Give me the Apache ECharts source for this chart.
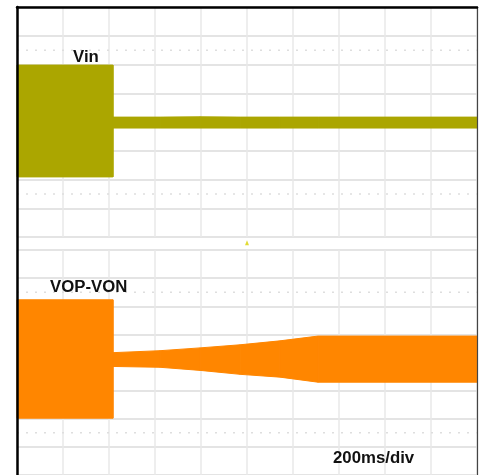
<!DOCTYPE html>
<html>
<head>
<meta charset="utf-8">
<script src="https://cdn.jsdelivr.net/npm/echarts@6/dist/echarts.min.js"></script>
<style>
html,body{margin:0;padding:0;background:#fff;}
#c{width:479px;height:475px;}
</style>
</head>
<body>
<div id="c"></div>
<script>
// time in ms (200 ms/div, 10 div), amplitude in divisions from panel centre
const timeMs   = [0,     417,   417,   622,   796,   970,   1143,  1309,  2000];
const vinUpper = [1.98,  1.98,  0.17,  0.17,  0.18,  0.17,  0.17,  0.17,  0.17];
const vinLower = [-1.91, -1.91, -0.21, -0.21, -0.21, -0.21, -0.21, -0.21, -0.21];
const vopUpper = [2.23,  2.23,  0.35,  0.42,  0.52,  0.63,  0.77,  0.94,  0.94];
const vopLower = [-1.98, -1.98, -0.14, -0.17, -0.28, -0.42, -0.52, -0.70, -0.70];
const dottedLevels = [2.5, -2.5];
const triggerTime = [1000];
const labels = ['Vin', 'VOP-VON', '200ms/div'];

const VIN_COLOR = '#aba600';
const VOP_COLOR = '#ff8600';

function segments(t, up, lo) {
  const out = [];
  for (let i = 0; i < t.length - 1; i++) {
    out.push([t[i], up[i], lo[i], t[i + 1], up[i + 1], lo[i + 1]]);
  }
  return out;
}

function bandRender(color) {
  return function (params, api) {
    const a = api.coord([api.value(0), api.value(1)]);
    const b = api.coord([api.value(3), api.value(4)]);
    const c = api.coord([api.value(3), api.value(5)]);
    const d = api.coord([api.value(0), api.value(2)]);
    return {
      type: 'polygon',
      shape: { points: [a, b, c, d] },
      style: { fill: color, stroke: color, lineWidth: 1 }
    };
  };
}

const chart = echarts.init(document.getElementById('c'), null, { renderer: 'canvas' });

const gridLineH = { show: true, lineStyle: { color: '#e4e4e4', width: 2 } };
const gridLineV = { show: true, lineStyle: { color: '#e8e8e8', width: 1.5 } };

function panelX(gi) {
  return {
    type: 'value', gridIndex: gi, min: 0, max: 2000, interval: 200,
    axisLine: { show: false }, axisTick: { show: false }, axisLabel: { show: false },
    splitLine: gridLineV
  };
}
function panelY(gi) {
  return {
    type: 'value', gridIndex: gi, min: -4, max: 4, interval: 1,
    axisLine: { show: false }, axisTick: { show: false }, axisLabel: { show: false },
    splitLine: gridLineH
  };
}

const dottedSeries = [];
[0, 1].forEach(function (gi) {
  dottedLevels.forEach(function (lv) {
    dottedSeries.push({
      type: 'line', xAxisIndex: gi, yAxisIndex: gi, silent: true, symbol: 'none',
      data: [[0, lv], [2000, lv]],
      lineStyle: { color: '#dedede', width: 1.5, type: [2, 7] }, z: 1
    });
  });
});

const labelStyle = { fontFamily: 'Liberation Sans, Arial', fontWeight: 'bold', fontSize: 16.8, color: '#111' };

const option = {
  animation: false,
  backgroundColor: '#ffffff',
  grid: [
    { left: 17, top: 7, width: 460, height: 230 },
    { left: 17, top: 250, width: 460, height: 230 },
    { left: 17, top: 7, width: 460, height: 480 }
  ],
  xAxis: [
    panelX(0), panelX(1),
    {
      type: 'value', gridIndex: 2, min: 0, max: 2000, position: 'top', z: 10,
      axisLine: { show: true, onZero: false, lineStyle: { color: '#000', width: 2.5 } },
      axisTick: { show: false }, axisLabel: { show: false }, splitLine: { show: false }
    }
  ],
  yAxis: [
    panelY(0), panelY(1),
    {
      type: 'value', gridIndex: 2, min: 0, max: 1, position: 'left', z: 10,
      axisLine: { show: true, onZero: false, lineStyle: { color: '#000', width: 2.5 } },
      axisTick: { show: false }, axisLabel: { show: false }, splitLine: { show: false }
    },
    {
      type: 'value', gridIndex: 2, min: 0, max: 1, position: 'right', z: 10,
      axisLine: { show: true, onZero: false, lineStyle: { color: '#444', width: 1.2 } },
      axisTick: { show: false }, axisLabel: { show: false }, splitLine: { show: false }
    }
  ],
  title: [
    { text: labels[0], left: 73, top: 49, padding: 0, textStyle: labelStyle },
    { text: labels[1], left: 50, top: 279, padding: 0, textStyle: labelStyle },
    { text: labels[2], left: 333, top: 450, padding: 0, textStyle: labelStyle }
  ],
  series: dottedSeries.concat([
    {
      type: 'custom', name: 'Vin', xAxisIndex: 0, yAxisIndex: 0, z: 3,
      renderItem: bandRender(VIN_COLOR),
      data: segments(timeMs, vinUpper, vinLower),
      encode: { x: [0, 3], y: [1, 2, 4, 5] }
    },
    {
      type: 'custom', name: 'VOP-VON', xAxisIndex: 1, yAxisIndex: 1, z: 3,
      renderItem: bandRender(VOP_COLOR),
      data: segments(timeMs, vopUpper, vopLower),
      encode: { x: [0, 3], y: [1, 2, 4, 5] }
    },
    {
      type: 'scatter', xAxisIndex: 0, yAxisIndex: 0, clip: false, z: 4,
      symbol: 'triangle', symbolSize: [4, 5],
      itemStyle: { color: '#d9d200' },
      data: triggerTime.map(function (t) { return [t, -4.2]; })
    }
  ])
};

chart.setOption(option);
</script>
</body>
</html>
